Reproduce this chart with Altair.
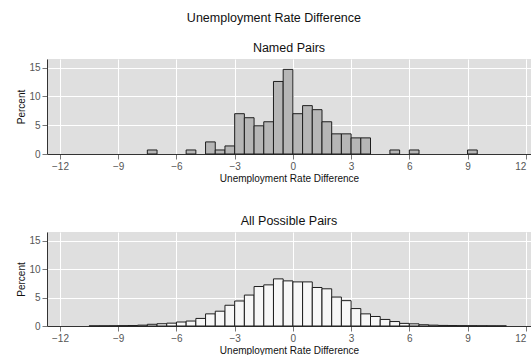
import altair as alt
import pandas as pd

# Histogram bins are 0.5 percentage points wide; each list gives bin starts and percent of pairs.
BIN_WIDTH = 0.5

named_start = [-7.5, -5.5, -4.5, -4.0, -3.5, -3.0, -2.5, -2.0, -1.5, -1.0, -0.5,
               0.0, 0.5, 1.0, 1.5, 2.0, 2.5, 3.0, 3.5, 5.0, 6.0, 9.0]
named_pct = [0.7, 0.7, 2.1, 0.7, 1.4, 7.0, 6.3, 4.9, 5.6, 12.6, 14.7,
             7.0, 8.4, 7.7, 5.6, 3.5, 3.5, 2.8, 2.8, 0.7, 0.7, 0.7]

all_start = [-10.5, -10.0, -9.5, -9.0, -8.5, -8.0, -7.5, -7.0, -6.5, -6.0, -5.5,
             -5.0, -4.5, -4.0, -3.5, -3.0, -2.5, -2.0, -1.5, -1.0, -0.5,
             0.0, 0.5, 1.0, 1.5, 2.0, 2.5, 3.0, 3.5, 4.0, 4.5,
             5.0, 5.5, 6.0, 6.5, 7.0, 7.5, 8.0, 8.5, 9.0, 9.5, 10.0, 10.5]
all_pct = [0.02, 0.03, 0.04, 0.06, 0.08, 0.15, 0.3, 0.4, 0.5, 0.7, 0.87,
           1.33, 2.13, 2.6, 3.64, 4.39, 5.43, 6.93, 7.22, 8.27, 7.92,
           7.74, 7.74, 6.76, 6.53, 5.08, 4.45, 3.06, 2.13, 1.67, 1.15,
           0.78, 0.46, 0.38, 0.22, 0.15, 0.1, 0.08, 0.06, 0.05, 0.04, 0.03, 0.02]

x_ticks = [-12, -9, -6, -3, 0, 3, 6, 9, 12]
y_ticks = [0, 5, 10, 15]

FONT = "Liberation Sans"


def panel(starts, pcts, fill, subtitle, height):
    df = pd.DataFrame({"lo": starts, "pct": pcts})
    df["hi"] = df["lo"] + BIN_WIDTH
    return (
        alt.Chart(df, title=alt.TitleParams(subtitle, fontSize=12.5, fontWeight="normal",
                                            font=FONT, color="#111", offset=5))
        .mark_bar(fill=fill, stroke="#1e1e1e", strokeWidth=1)
        .encode(
            x=alt.X("lo:Q",
                    scale=alt.Scale(domain=[-12.67, 12.27], nice=False, zero=False),
                    axis=alt.Axis(values=x_ticks, title="Unemployment Rate Difference",
                                  labelFlush=6)),
            x2="hi",
            y=alt.Y("pct:Q",
                    scale=alt.Scale(domain=[0, 16.5], nice=False),
                    axis=alt.Axis(values=y_ticks, title="Percent")),
            y2=alt.datum(0),
        )
        .properties(width=484, height=height)
    )


top = panel(named_start, named_pct, "#b6b6b6", "Named Pairs", 95)
bottom = panel(all_start, all_pct, "#f7f7f7", "All Possible Pairs", 94)

chart = (
    alt.vconcat(top, bottom, spacing=31)
    .properties(
        title=alt.TitleParams("Unemployment Rate Difference", fontSize=12.5,
                              fontWeight="normal", font=FONT, color="#111",
                              anchor="middle", offset=17),
        padding={"left": 16, "top": 12, "right": 0, "bottom": 0},
        background="white",
    )
    .configure_view(fill="#dfdfdf", stroke=None)
    .configure_axis(
        labelFont=FONT, titleFont=FONT, labelFontSize=10, titleFontSize=10,
        titleFontWeight="normal", labelColor="#555", titleColor="#111",
        tickColor="#777", tickSize=5, domainColor="#333", domainWidth=1,
        gridColor="white", gridWidth=1, labelPadding=2, titlePadding=2,
    )
)

chart.save("out.html", embed_options={"renderer": "svg", "actions": False})
